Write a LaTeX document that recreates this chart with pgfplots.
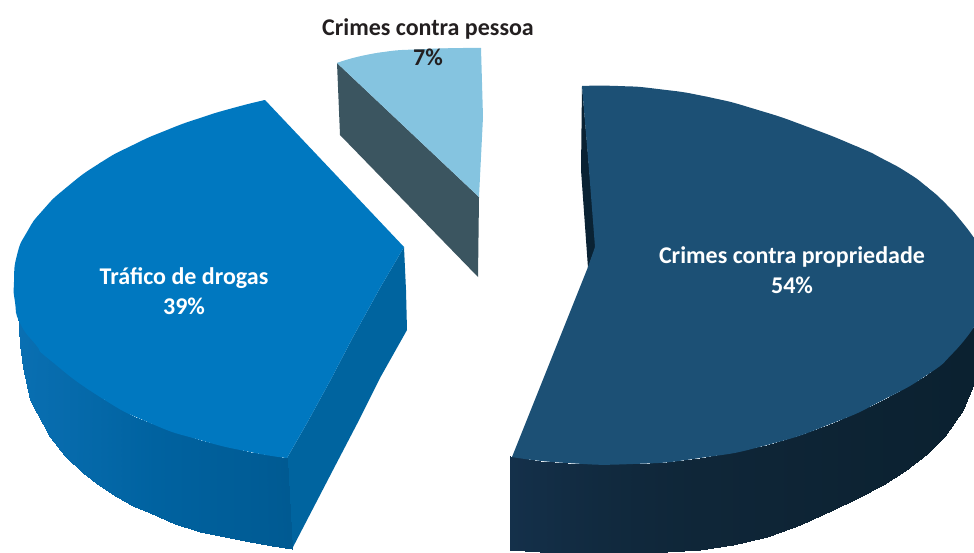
\documentclass[border=0pt]{standalone}
\usepackage{fontspec}
\setmainfont{Carlito}
\usepackage{pgfplots}
\pgfplotsset{compat=1.18}

\definecolor{toplight}{HTML}{85C4E0}
\definecolor{sidelight}{HTML}{3B5560}
\definecolor{topblue}{HTML}{0078C0}
\definecolor{faceblue}{HTML}{00649F}
\definecolor{topdark}{HTML}{1C5075}
\definecolor{sliver}{HTML}{0A2233}
\definecolor{labeldark}{HTML}{231F20}

\pgfplotsset{
  colormap={bluemap}{rgb255=(10,112,179) rgb255=(0,98,160) rgb255=(0,90,146)},
  colormap={darkmap}{rgb255=(20,48,74) rgb255=(15,38,56) rgb255=(11,33,48)},
}
\tikzset{lab/.style={font=\fontsize{24}{30}\selectfont\bfseries, align=center}}

\begin{document}
\begin{tikzpicture}
\begin{axis}[
  scale only axis,
  width=974pt, height=552pt,
  xmin=0, xmax=974,
  ymin=0, ymax=552,
  y dir=reverse,
  hide axis,
  point meta min=0, point meta max=1,
]
\path[use as bounding box] (axis cs:0,0) rectangle (axis cs:974,552);

% Crimes contra propriedade: side wall, top row then bottom row
\addplot[surf, shader=interp, colormap name=darkmap, mesh/rows=2, point meta=explicit]
  table[x=x, y=y, meta=c] {
x y c
510 456 0
540 461 0.1
567 463 0.2
600 464 0.3
633 464 0.38
667 462 0.45
700 458 0.5
733 452 0.55
767 445 0.62
800 435 0.68
833 423 0.74
858 412 0.8
883 400 0.85
905 388 0.89
927 375 0.93
945 360 0.96
963 340 0.99
974 327 1
510 550 0
540 552 0.1
567 552 0.2
600 552 0.3
633 552 0.38
667 552 0.45
700 550 0.5
733 545 0.55
767 537 0.62
800 525 0.68
833 510 0.74
858 498 0.8
883 485 0.85
905 471 0.89
927 454 0.93
945 436 0.96
963 410 0.99
974 383 1
};
\addplot[fill=sliver, draw=none] coordinates {(582,86) (581,170) (588,268) (596,246)} -- cycle;
% top face: outer arcs and the body between them
\addplot[fill=topdark, draw=none, smooth, tension=1] coordinates {
  (582,86) (618,86) (658,89) (708,97) (758,110) (808,127) (858,147) (883,159) (908,173) (927,187) (945,203) (962,222) (974,238)};
\addplot[fill=topdark, draw=none, smooth, tension=1] coordinates {
  (974,327) (953,353) (927,375) (883,400) (833,423) (767,445) (700,458) (633,464) (567,463) (512,457)};
\addplot[fill=topdark, draw=none] coordinates {
  (582,86) (708,97) (858,147) (927,187) (974,238) (974,327) (883,400) (767,445) (633,464) (512,457)
  (588,267) (595,247) (589,170)} -- cycle;

% Trafico de drogas
\addplot[fill=faceblue, draw=none] coordinates {
  (287,458) (292,549) (333,470) (357,424) (380,378) (407,330) (406,290) (404,247) (380,288) (353,337) (330,381) (307,423)} -- cycle;
\addplot[surf, shader=interp, colormap name=bluemap, mesh/rows=2, point meta=explicit]
  table[x=x, y=y, meta=c] {
x y c
18 312 0
20 323 0.02
28 335 0.05
36 345 0.08
50 360 0.13
65 372 0.18
85 387 0.25
100 397 0.3
117 407 0.36
133 416 0.42
150 423 0.48
175 432 0.57
200 440 0.66
225 446 0.75
250 452 0.84
270 455 0.92
287 458 1
18 312 0
20 345 0.02
23 367 0.05
30 400 0.08
50 437 0.13
65 456 0.18
83 473 0.25
100 486 0.3
117 497 0.36
133 506 0.42
150 513 0.48
175 524 0.57
200 532 0.66
225 537 0.75
250 542 0.84
272 546 0.92
292 549 1
};
\addplot[fill=topblue, draw=none, smooth, tension=1] coordinates {
  (265,100) (233,108) (200,118) (167,130) (133,145) (100,163) (67,187) (43,210) (27,232) (17,255) (14,282) (15,302)
  (20,323) (36,345) (50,360) (100,397) (150,423) (200,440) (250,452) (287,458)};
\addplot[fill=topblue, draw=none] coordinates {
  (265,100) (100,163) (14,282) (50,360) (150,423) (287,458) (307,423) (330,381) (353,337) (380,288) (404,247)} -- cycle;

% Crimes contra pessoa
\addplot[fill=sidelight, draw=none] coordinates {(337,63) (479,197) (478,277) (340,135)} -- cycle;
\addplot[fill=toplight, draw=none, smooth, tension=1] coordinates {(337,63) (377,53) (427,49) (481,48)};
\addplot[fill=toplight, draw=none] coordinates {
  (337,63) (377,53) (427,49) (481,48) (483,117) (479,197)} -- cycle;

\node[lab, text=labeldark] at (axis cs:428,42) {Crimes contra pessoa\\7\%};
\node[lab, text=white] at (axis cs:184,291) {Tráfico de drogas\\39\%};
\node[lab, text=white] at (axis cs:792,270) {Crimes contra propriedade\\54\%};
\end{axis}
\end{tikzpicture}
\end{document}
